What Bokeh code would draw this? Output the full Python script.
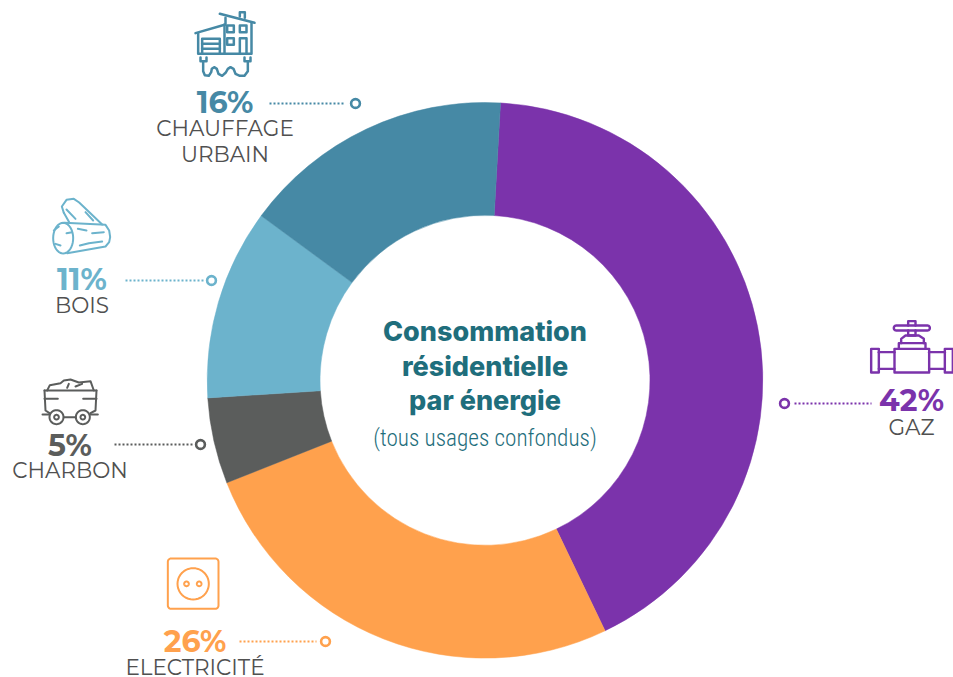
import math
from bokeh.plotting import figure
from bokeh.models import Range1d, ColumnDataSource
from bokeh.core.properties import value
from bokeh.embed import file_html
from bokeh.resources import INLINE

W, H = 953, 677

# ---- data ----
categories = ["GAZ", "ELECTRICITÉ", "CHARBON", "BOIS", "CHAUFFAGE URBAIN"]
pct_labels = ["42%", "26%", "5%", "11%", "16%"]
shares = [42.0, 26.1, 5.0, 11.1, 15.8]
colors = ["#7B33AB", "#FFA14D", "#5B5D5C", "#6CB3CC", "#4689A5"]
start_clock_deg = 3.2
title_lines = ["Consommation", "résidentielle", "par énergie"]
subtitle = "(tous usages confondus)"

CX, CY, R_OUT, R_IN = 484.5, 379.8, 277.8, 165.0
TEAL = "#1F6E7C"
LABEL = "#505050"

p = figure(width=W, height=H, output_backend="svg", toolbar_location=None,
           x_range=Range1d(0, W), y_range=Range1d(0, H), min_border=0,
           outline_line_color=None, background_fill_color="white", border_fill_color="white")
p.axis.visible = False
p.grid.visible = False


def Y(py):
    return H - py


# ---- donut ----
total = sum(shares)
cum = start_clock_deg
starts, ends = [], []
for s in shares:
    a0 = math.radians(90 - cum)
    cum += 360 * s / total
    a1 = math.radians(90 - cum)
    starts.append(a1)
    ends.append(a0)
src = ColumnDataSource(dict(start=starts, end=ends, color=colors, cat=categories))
p.annular_wedge(x=CX, y=Y(CY), inner_radius=R_IN, outer_radius=R_OUT, start_angle="start",
                end_angle="end", fill_color="color", line_color="color", line_width=0.5, source=src)

# ---- centre text ----
for t, py in zip(title_lines, [341.7, 376, 410]):
    p.text([CX], [Y(py - 10.4)], text=[t], text_font=value("Inter ExtraBold"),
           text_font_size="27px", text_color=TEAL, text_align="center", text_baseline="alphabetic")
p.text([CX], [Y(444 - 7)], text=[subtitle], text_font=value("Roboto Condensed Light"),
       text_font_size="23.2px", text_color=TEAL, text_align="center", text_baseline="alphabetic")


# ---- labels / connectors ----
def label(idx, pct_xy, lines, line_ys, x0, x1, yline, cx_dot):
    color = colors[idx]
    p.text([pct_xy[0]], [Y(pct_xy[1] - 9.6)], text=[pct_labels[idx]], text_font=value("Montserrat"),
           text_font_style="bold", text_font_size="30px", text_color=color,
           text_align="center", text_baseline="alphabetic")
    for l, ly in zip(lines, line_ys):
        p.text([pct_xy[0]], [Y(ly - 8.5)], text=[l], text_font=value("Montserrat"), text_font_size="21.5px",
               text_color=LABEL, text_align="center", text_baseline="alphabetic")
    p.line([x0, x1], [Y(yline), Y(yline)], line_color=color, line_width=2,
           line_dash="2 2", line_cap="butt")
    p.circle([cx_dot], [Y(yline)], radius=4.4, fill_color="white", line_color=color, line_width=2.6)


label(0, (911, 410), ["GAZ"], [435], 794, 871, 403, 784)
label(1, (194.5, 651), ["ELECTRICITÉ"], [675], 239, 316, 641, 325)
label(2, (69.5, 455), ["CHARBON"], [478.3], 114, 192, 444, 200)
label(3, (81.5, 289), ["BOIS"], [313.3], 125, 203, 280, 211)
label(4, (224.5, 111.7), ["CHAUFFAGE", "URBAIN"], [136, 161.7], 269, 345, 103, 355)


# ---- icons, drawn as stroked paths (coordinates in the 3x crop grid) ----
def arc(cx, cy, rx, ry=None, a0=0, a1=360, n=40):
    ry = rx if ry is None else ry
    return [(cx + rx * math.cos(math.radians(a0 + (a1 - a0) * i / n)),
             cy + ry * math.sin(math.radians(a0 + (a1 - a0) * i / n))) for i in range(n + 1)]


def rect(x0, y0, x1, y1):
    return [(x0, y0), (x1, y0), (x1, y1), (x0, y1), (x0, y0)]


def rrect(x0, y0, x1, y1, r):
    return (arc(x0 + r, y0 + r, r, a0=180, a1=270, n=6) + arc(x1 - r, y0 + r, r, a0=270, a1=360, n=6) +
            arc(x1 - r, y1 - r, r, a0=0, a1=90, n=6) + arc(x0 + r, y1 - r, r, a0=90, a1=180, n=6) +
            [(x0, y0 + r)])


def icon(paths, ox, oy, color, lw=2.0):
    xs = [[ox + a / 3 for a, _ in path] for path in paths]
    ys = [[Y(oy + b / 3) for _, b in path] for path in paths]
    p.multi_line(xs, ys, line_color=color, line_width=lw, line_cap="round", line_join="round")


house = [
    [(208, 40), (312, 67)],
    [(268, 48), (268, 35), (283, 35), (283, 52)],
    [(135, 98), (225, 72), (225, 52)],
    [(143, 98), (143, 160), (303, 160), (303, 65)],
    [(222, 72), (222, 160)],
    rect(230, 75, 250, 95), rect(268, 75, 288, 95), rect(230, 113, 250, 133),
    [(268, 160), (268, 113), (288, 113), (288, 160)],
    [(155, 160), (155, 115), (208, 115), (208, 160)],
    [(155, 130), (208, 130)], [(155, 145), (208, 145)],
    [(158, 182), (158, 212), (163, 224), (175, 226), (182, 215), (184, 205), (191, 200), (199, 205),
     (204, 220), (215, 226), (226, 216), (232, 205), (240, 200), (249, 205), (255, 220), (268, 226),
     (282, 226), (292, 212), (292, 182)],
    [(150, 171), (150, 182), (168, 182), (168, 171)],
    [(282, 171), (282, 182), (300, 182), (300, 171)],
]
icon(house, 150, 0, colors[4], 2.5)

log = [
    arc(188, 143, 30, 46),
    [(192, 97), (315, 103), (326, 120), (329, 140), (326, 155), (315, 168), (200, 188)],
    [(190, 67), (184, 48), (198, 28), (220, 25), (236, 36), (305, 102)],
    [(190, 67), (207, 97)],
    [(198, 57), (225, 85)], [(255, 65), (278, 90)],
    [(232, 115), (258, 120)], [(275, 128), (310, 125)],
    [(238, 165), (265, 158), (305, 153)],
    [(160, 120), (175, 108)], [(198, 128), (215, 125)], [(165, 160), (180, 165)],
]
icon(log, 0, 190, colors[3], 2.0)

cart = [
    [(132, 600), (288, 600)],
    [(132, 600), (135, 660), (147, 668)],
    [(288, 600), (285, 660), (270, 668)],
    [(190, 680), (226, 680)],
    arc(168, 680, 21), arc(168, 680, 7), arc(247, 680, 21), arc(247, 680, 7),
    [(132, 625), (172, 625)], [(248, 625), (288, 625)],
    [(126, 672), (146, 672)], [(270, 672), (292, 672)],
    [(140, 600), (148, 584), (180, 578), (190, 570), (210, 567), (235, 576), (270, 572), (280, 600)],
    [(200, 592), (205, 580)], [(225, 588), (245, 580)],
]
icon(cart, 0, 190, colors[2], 2.0)

valve = [
    rrect(370, 45, 478, 60, 7),
    [(413, 45), (413, 32), (435, 32), (435, 45)],
    [(413, 60), (413, 75), (435, 75), (435, 60)],
    [(392, 98), (392, 85), (405, 75), (445, 75), (460, 85), (460, 98)],
    [(385, 115), (385, 98), (465, 98), (465, 115)],
    rect(372, 115, 476, 186),
    [(325, 125), (372, 125)], [(325, 175), (372, 175)],
    [(476, 125), (523, 125)], [(476, 175), (523, 175)],
    rect(302, 115, 325, 186), rect(523, 115, 547, 186),
]
icon(valve, 770, 310, colors[0], 2.4)

socket = [
    rrect(142, 24, 294, 175, 10),
    arc(218, 100, 47),
    arc(198, 100, 7), arc(236, 100, 7),
]
icon(socket, 120, 550, colors[1], 2.0)

open("out.html", "w").write(file_html(p, INLINE))
